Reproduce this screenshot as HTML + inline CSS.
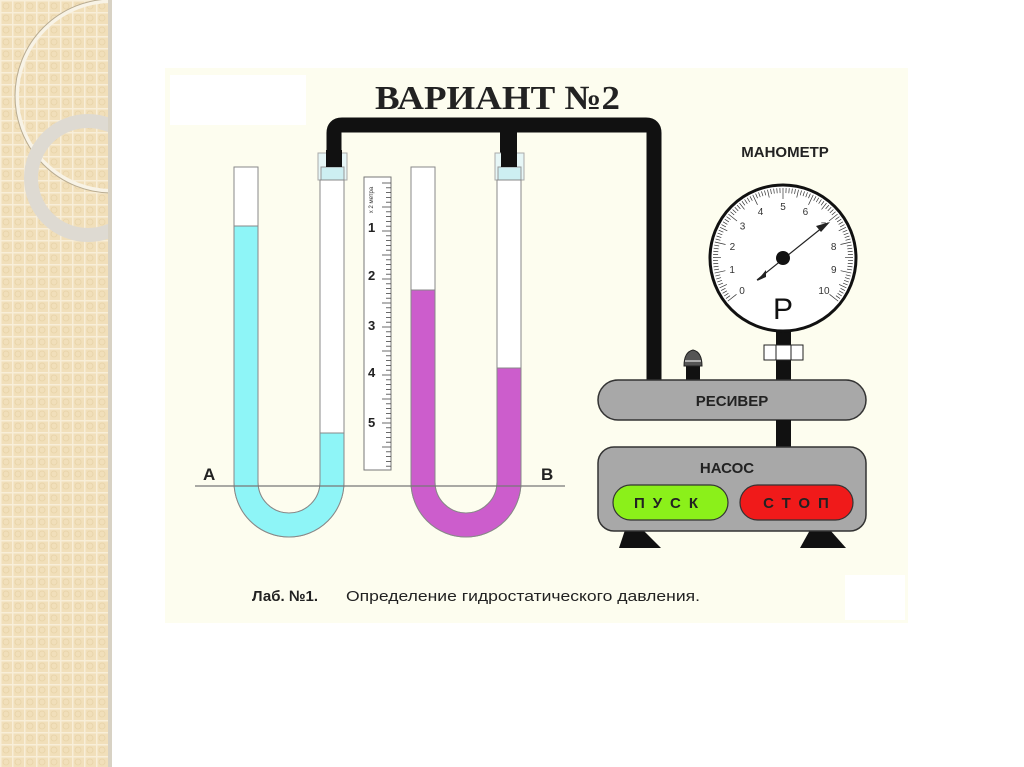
<!DOCTYPE html>
<html><head><meta charset="utf-8">
<style>
html,body{margin:0;padding:0;width:1024px;height:767px;overflow:hidden;background:#fff;}
svg{display:block;font-family:"Liberation Sans",sans-serif;}
</style></head><body>
<svg id="s" width="1024" height="767" viewBox="0 0 1024 767" xmlns="http://www.w3.org/2000/svg">
<defs>
<pattern id="pt" width="12" height="12" patternUnits="userSpaceOnUse">
<rect width="12" height="12" fill="#f1dfba"/>
<rect x="0" y="0" width="12" height="1.5" fill="#f8eed8"/>
<rect x="0" y="0" width="1.5" height="12" fill="#f8eed8"/>
<circle cx="6" cy="6" r="3" fill="none" stroke="#e8d3a8" stroke-width="0.8"/>
</pattern>
<clipPath id="cl"><rect x="0" y="0" width="110" height="767"/></clipPath>
</defs>
<rect x="0" y="0" width="112" height="767" fill="url(#pt)"/>
<g clip-path="url(#cl)">
<circle cx="112" cy="96" r="95" fill="none" stroke="#f8f3e6" stroke-width="4"/>
<circle cx="112" cy="96" r="97" fill="none" stroke="#b8ab90" stroke-width="1"/>
<circle cx="88" cy="178" r="57" fill="none" stroke="#dedad2" stroke-width="14"/>
</g>
<rect x="108" y="0" width="4" height="767" fill="#d8d2c4"/>
<!-- diagram bg -->
<rect x="165" y="68" width="743" height="555" fill="#fdfdef"/>
<rect x="170" y="75" width="136" height="50" fill="#fff"/>
<rect x="845" y="575" width="60" height="45" fill="#fff"/>
<text x="375" y="109" font-family="Liberation Serif,serif" font-weight="bold" font-size="34" textLength="245" lengthAdjust="spacingAndGlyphs" fill="#222">ВАРИАНТ №2</text>
<!-- pipes -->
<path d="M334 170 V133 Q334 125 342 125 H646 Q654 125 654 133 V380" fill="none" stroke="#111" stroke-width="15"/>
<rect x="500" y="125" width="17" height="42" fill="#111"/>
<!-- caps -->
<rect x="318" y="153" width="29" height="27" fill="#e6f6f6" stroke="#aaa" stroke-width="1"/>
<rect x="321" y="167" width="23" height="13" fill="#cdeff2" stroke="#999" stroke-width="1"/>
<rect x="495" y="153" width="29" height="27" fill="#e6f6f6" stroke="#aaa" stroke-width="1"/>
<rect x="498" y="167" width="23" height="13" fill="#cdeff2" stroke="#999" stroke-width="1"/>
<rect x="326" y="150" width="16" height="17" fill="#111"/>
<rect x="501" y="150" width="16" height="17" fill="#111"/>
<!-- left U tube -->
<path d="M234 167 V482 A55 55 0 0 0 344 482 V180 H320 V482 A31 31 0 0 1 258 482 V167 Z" fill="#fff" stroke="#888" stroke-width="1"/>
<path d="M234 226 V482 A55 55 0 0 0 344 482 V433 H320 V482 A31 31 0 0 1 258 482 V226 Z" fill="#8ef5f7" stroke="#888" stroke-width="1"/>
<!-- right U tube -->
<path d="M411 167 V482 A55 55 0 0 0 521 482 V180 H497 V482 A31 31 0 0 1 435 482 V167 Z" fill="#fff" stroke="#888" stroke-width="1"/>
<path d="M411 290 V482 A55 55 0 0 0 521 482 V368 H497 V482 A31 31 0 0 1 435 482 V290 Z" fill="#cc5dcc" stroke="#888" stroke-width="1"/>
<!-- ruler -->
<rect x="364" y="177" width="27" height="293" fill="#fff" stroke="#777" stroke-width="1"/>
<g id="ruler"></g>
<text x="373" y="200" font-size="6" fill="#333" transform="rotate(-90 373 200)" text-anchor="middle">x 2 метра</text>
<g font-weight="bold" font-size="13" fill="#222">
<text x="368" y="232">1</text><text x="368" y="280">2</text><text x="368" y="330">3</text><text x="368" y="377">4</text><text x="368" y="427">5</text>
</g>
<!-- baseline -->
<line x1="195" y1="486" x2="565" y2="486" stroke="#777" stroke-width="1.2"/>
<text x="203" y="480" font-weight="bold" font-size="17" fill="#222">A</text>
<text x="541" y="480" font-weight="bold" font-size="17" fill="#222">B</text>
<!-- manometer -->
<text x="785" y="157" font-weight="bold" font-size="15" text-anchor="middle" fill="#222">МАНОМЕТР</text>
<rect x="776" y="325" width="15" height="56" fill="#111"/>
<rect x="764" y="345" width="39" height="15" fill="#fff" stroke="#222" stroke-width="1"/>
<line x1="776" y1="345" x2="776" y2="360" stroke="#222"/><line x1="791" y1="345" x2="791" y2="360" stroke="#222"/>
<circle cx="783" cy="258" r="73" fill="#fff" stroke="#111" stroke-width="3"/>
<g id="gauge"></g>
<line x1="757" y1="280" x2="828" y2="223" stroke="#222" stroke-width="1.2"/>
<path d="M830 222 L816 226 L821 232 Z" fill="#222"/>
<path d="M757 281 L766 270 L766 277 Z" fill="#222"/>
<circle cx="783" cy="258" r="7" fill="#111"/>
<text x="783" y="319" font-size="30" text-anchor="middle" fill="#111">P</text>
<!-- valve -->
<rect x="686" y="365" width="14" height="16" fill="#111"/>
<path d="M684 366 Q684 352 693 350 Q702 352 702 366 Z" fill="#555" stroke="#222"/>
<line x1="685" y1="361" x2="701" y2="361" stroke="#ccc" stroke-width="1.5"/>
<!-- receiver -->
<rect x="598" y="380" width="268" height="40" rx="20" fill="#a8a8a8" stroke="#333" stroke-width="1.5"/>
<text x="732" y="406" font-weight="bold" font-size="15" text-anchor="middle" fill="#222">РЕСИВЕР</text>
<rect x="776" y="420" width="15" height="28" fill="#111"/>
<!-- pump -->
<path d="M625 530 L643 530 L661 548 L619 548 Z" fill="#111"/>
<path d="M810 530 L830 530 L846 548 L800 548 Z" fill="#111"/>
<rect x="598" y="447" width="268" height="84" rx="16" fill="#a8a8a8" stroke="#333" stroke-width="1.5"/>
<text x="727" y="473" font-weight="bold" font-size="15" text-anchor="middle" fill="#222">НАСОС</text>
<rect x="613" y="485" width="115" height="35" rx="17.5" fill="#8bf01a" stroke="#333" stroke-width="1.2"/>
<text x="670" y="508" font-weight="bold" font-size="15" text-anchor="middle" fill="#222" letter-spacing="8">ПУСК</text>
<rect x="740" y="485" width="113" height="35" rx="17.5" fill="#f01a1a" stroke="#333" stroke-width="1.2"/>
<text x="800" y="508" font-weight="bold" font-size="15" text-anchor="middle" fill="#222" letter-spacing="8">СТОП</text>
<!-- caption -->
<text x="252" y="601" font-weight="bold" font-size="15" fill="#222">Лаб. №1.</text>
<text x="346" y="601" font-size="15" textLength="354" lengthAdjust="spacingAndGlyphs" fill="#222">Определение гидростатического давления.</text>
</svg>
<script>
var r=document.getElementById('ruler'),h='';
for(var y=183;y<468;y+=4.8){var l=(Math.round((y-183)/4.8)%5==0)?9:5;h+='<line x1="'+(391-l)+'" y1="'+y+'" x2="391" y2="'+y+'" stroke="#444" stroke-width="0.8"/>';}
r.innerHTML=h;
var g=document.getElementById('gauge'),s='',cx=783,cy=258;
var a0=-128,a1=128,n=100;
for(var i=0;i<=n;i++){var a=(a0+(a1-a0)*i/n)*Math.PI/180;var L=(i%10==0)?11:(i%5==0?8:5);
var x1=cx+70*Math.sin(a),y1=cy-70*Math.cos(a),x2=cx+(70-L)*Math.sin(a),y2=cy-(70-L)*Math.cos(a);
s+='<line x1="'+x1+'" y1="'+y1+'" x2="'+x2+'" y2="'+y2+'" stroke="#333" stroke-width="0.7"/>';}
for(var k=0;k<=10;k++){var a=(a0+(a1-a0)*k/10)*Math.PI/180;var x=cx+52*Math.sin(a),y=cy-52*Math.cos(a)+4;
s+='<text x="'+x+'" y="'+y+'" font-size="10" text-anchor="middle" fill="#333">'+k+'</text>';}
g.innerHTML=s;
</script>
</body></html>
